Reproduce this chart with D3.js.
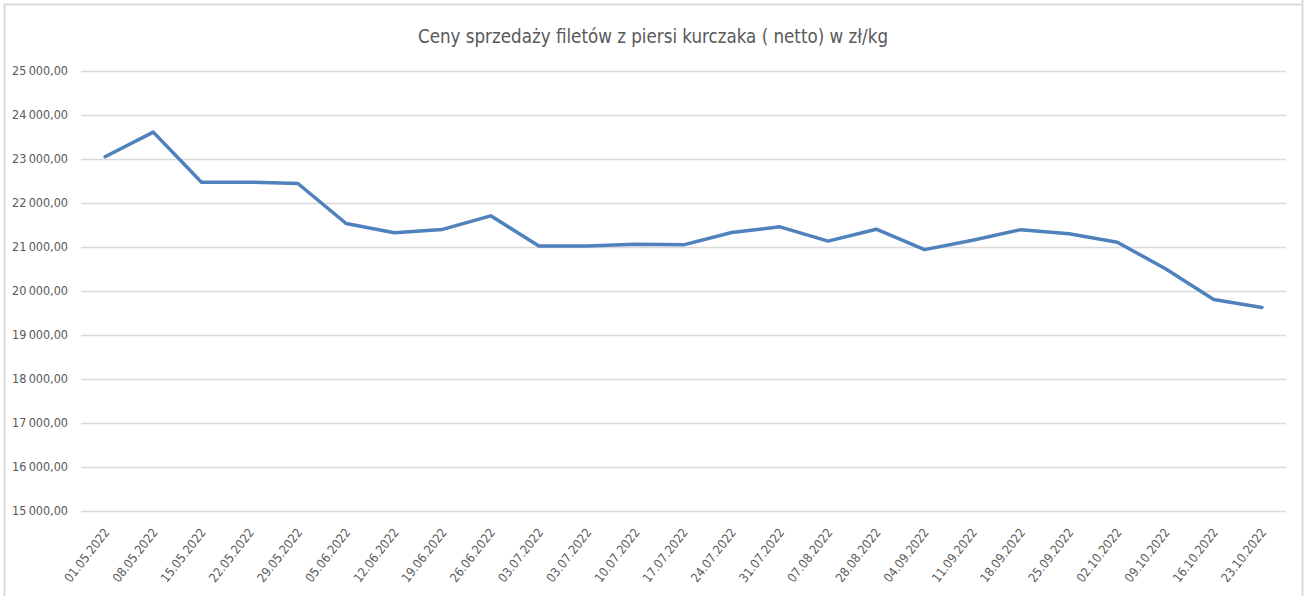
<!DOCTYPE html>
<html>
<head>
<meta charset="utf-8">
<script src="https://cdn.jsdelivr.net/npm/d3@7"></script>
<style>
  body { margin: 0; background: #fff; }
  text { font-family: "Liberation Sans Narrow", "DejaVu Sans Condensed", "Open Sans", sans-serif; fill: #595959; }
</style>
</head>
<body>
<div id="chart"></div>
<script>
// Data
const dates = ["01.05.2022", "08.05.2022", "15.05.2022", "22.05.2022", "29.05.2022",
  "05.06.2022", "12.06.2022", "19.06.2022", "26.06.2022", "03.07.2022", "03.07.2022",
  "10.07.2022", "17.07.2022", "24.07.2022", "31.07.2022", "07.08.2022", "28.08.2022",
  "04.09.2022", "11.09.2022", "18.09.2022", "25.09.2022", "02.10.2022", "09.10.2022",
  "16.10.2022", "23.10.2022"];
const prices = [23050, 23610, 22470, 22470, 22440, 21530, 21320, 21395, 21705, 21020, 21020,
  21060, 21045, 21325, 21455, 21130, 21400, 20935, 21150, 21390, 21295, 21105, 20500,
  19800, 19620];
const yTicks = [15000, 16000, 17000, 18000, 19000, 20000, 21000, 22000, 23000, 24000, 25000];
const title = "Ceny sprzedaży filetów z piersi kurczaka ( netto) w zł/kg";

const width = 1307;
const height = 596;
const margin = { top: 71, right: 21, bottom: 85.5, left: 81 };
const w = width - margin.left - margin.right;
const h = height - margin.top - margin.bottom;

let svg = d3.select("#chart")
  .append("svg")
  .attr("width", width)
  .attr("height", height);

// chart frame
svg.append("path")
  .attr("d", "M4.5,596 V4.5 H1302.5 M1302.5,0 V596")
  .attr("fill", "none")
  .attr("stroke", "#d9d9d9")
  .attr("stroke-width", 2);

// title
svg.append("text")
  .attr("x", 653)
  .attr("y", 43)
  .attr("text-anchor", "middle")
  .attr("textLength", 470)
  .attr("lengthAdjust", "spacingAndGlyphs")
  .style("font-size", "20px")
  .text(title);

// Scales
let xScale = d3.scaleBand()
  .domain(d3.range(dates.length))
  .range([0, w]);
let yScale = d3.scaleLinear()
  .domain([15000, 25000])
  .range([h, 0]);

let g = svg.append("g")
  .attr("transform", `translate(${margin.left},${margin.top})`);

// gridlines
g.selectAll("line.grid")
  .data(yTicks)
  .enter()
  .append("line")
  .attr("class", "grid")
  .attr("x1", 0)
  .attr("x2", w)
  .attr("y1", d => Math.round(yScale(d)) + 0.5)
  .attr("y2", d => Math.round(yScale(d)) + 0.5)
  .attr("stroke", "#d9d9d9")
  .attr("stroke-width", 1.3);

// y labels
const fmt = v => d3.format(",.2f")(v).replace(",", "\u2009").replace(".", ",");
g.selectAll("text.ylab")
  .data(yTicks)
  .enter()
  .append("text")
  .attr("class", "ylab")
  .attr("x", -13)
  .attr("y", d => yScale(d))
  .attr("dy", "0.35em")
  .attr("text-anchor", "end")
  .style("font-size", "12.5px")
  .text(fmt);

// x labels
const cx = i => xScale(i) + xScale.bandwidth() / 2;
g.selectAll("text.xlab")
  .data(dates)
  .enter()
  .append("text")
  .attr("class", "xlab")
  .attr("text-anchor", "end")
  .attr("transform", (d, i) => `translate(${cx(i) + 5},${h + 22}) rotate(-52)`)
  .style("font-size", "12.5px")
  .text(d => d);

// line
let line = d3.line()
  .x((d, i) => cx(i))
  .y(d => yScale(d));

g.append("path")
  .datum(prices)
  .attr("fill", "none")
  .attr("stroke", "#4f81bd")
  .attr("stroke-width", 3.5)
  .attr("stroke-linejoin", "round")
  .attr("stroke-linecap", "round")
  .attr("d", line);
</script>
</body>
</html>
